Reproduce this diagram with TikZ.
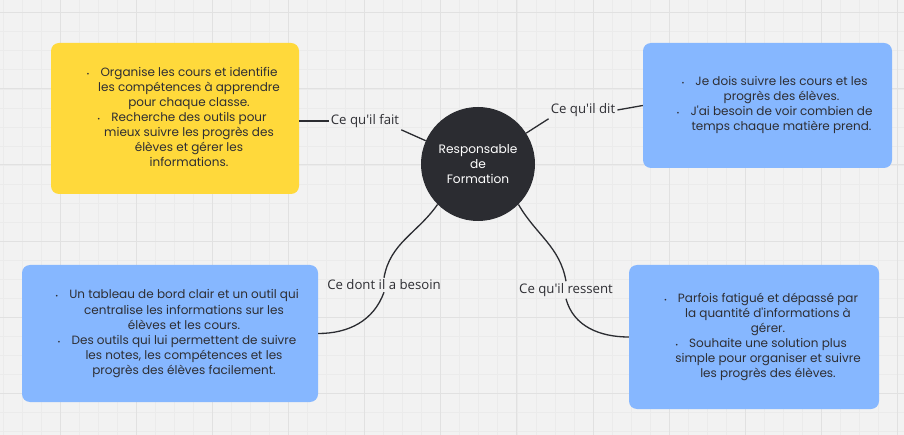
\documentclass[tikz,border=0pt]{standalone}
\usepackage{fontspec}
\setmainfont{Poppins}
\newfontfamily\labelfont{Open Sans}
\usetikzlibrary{positioning}
\definecolor{boardbg}{RGB}{242,242,242}
\definecolor{gridminor}{RGB}{235,235,235}
\definecolor{gridmajor}{RGB}{225,225,225}
\definecolor{stickyyellow}{RGB}{255,217,59}
\definecolor{stickyblue}{RGB}{134,183,255}
\definecolor{hubdark}{RGB}{43,44,49}
\definecolor{inkgray}{RGB}{46,46,51}
\newcommand{\puce}{\llap{{\scriptsize\textbullet}\hspace{11pt}}}

\begin{document}
\begin{tikzpicture}[
  x=1pt, y=1pt,
  card/.style={rounded corners=8pt,inner sep=0pt,text=inkgray,font=\fontsize{12}{15}\selectfont},
  yellowcard/.style={card,fill=stickyyellow},
  bluecard/.style={card,fill=stickyblue},
  hub/.style={circle,fill=hubdark,text=white,minimum size=114pt,inner sep=0pt,align=center,font=\fontsize{12.2}{15}\selectfont},
  branch/.style={font=\labelfont\fontsize{13.2}{15}\selectfont,text=inkgray,inner sep=2pt},
  link/.style={line width=1.3pt,hubdark}
]
% BOARD: background and grid
\fill[boardbg] (0,0) rectangle (904,-435);
\begin{scope}
  \clip (0,0) rectangle (904,-435);
  \foreach \i in {0,...,48} \draw[gridminor,line width=0.6pt] ({-15.9+19.025*\i},0) -- ++(0,-435);
  \foreach \j in {0,...,24} \draw[gridminor,line width=0.6pt] (0,{6.3-19.025*\j}) -- ++(904,0);
  \foreach \i in {0,...,12} \draw[gridmajor,line width=0.8pt] ({-15.9+76.1*\i},0) -- ++(0,-435);
  \foreach \j in {0,...,6} \draw[gridmajor,line width=0.8pt] (0,{-12.7-76.1*\j}) -- ++(904,0);
\end{scope}

% CENTRE: the role
\node[hub] (resp) at (478,-164) {Responsable\\de\\Formation};

% TOP LEFT: what he does
\node[yellowcard,minimum width=248pt,minimum height=151pt] (doesbox) at (175,-118.5) {\hspace*{28pt}\begin{tabular}{@{}c@{}}
  \puce Organise les cours et identifie\\ les compétences à apprendre\\ pour chaque classe.\\
  \puce Recherche des outils pour\\ mieux suivre les progrès des\\ élèves et gérer les\\ informations.\end{tabular}};

% TOP RIGHT: what he says
\node[bluecard,minimum width=249pt,minimum height=125pt] (saysbox) at (767.5,-105.5) {\hspace*{28pt}\begin{tabular}{@{}c@{}}
  \puce Je dois suivre les cours et les\\ progrès des élèves.\\
  \puce J\textquotesingle ai besoin de voir combien de\\ temps chaque matière prend.\end{tabular}};

% BOTTOM LEFT: what he needs
\node[bluecard,minimum width=296pt,minimum height=137pt] (needbox) at (170,-333.5) {\hspace*{28pt}\begin{tabular}{@{}c@{}}
  \puce Un tableau de bord clair et un outil qui\\ centralise les informations sur les\\ élèves et les cours.\\
  \puce Des outils qui lui permettent de suivre\\ les notes, les compétences et les\\ progrès des élèves facilement.\end{tabular}};

% BOTTOM RIGHT: what he feels
\node[bluecard,minimum width=250pt,minimum height=144pt] (feelbox) at (754,-337) {\hspace*{28pt}\begin{tabular}{@{}c@{}}
  \puce Parfois fatigué et dépassé par\\ la quantité d\textquotesingle informations à\\ gérer.\\
  \puce Souhaite une solution plus\\ simple pour organiser et suivre\\ les progrès des élèves.\end{tabular}};

% BRANCH LABELS
\node[branch] (fait) at (365,-121) {Ce qu\textquotesingle il fait};
\node[branch] (dit) at (583,-110) {Ce qu\textquotesingle il dit};
\node[branch] (besoin) at (384,-285) {Ce dont il a besoin};
\node[branch] (ressent) at (566,-290) {Ce qu\textquotesingle il ressent};

% BRANCHES
\draw[link] (doesbox.east |- fait.west) -- (fait.west);
\draw[link] (fait.south east) -- (resp);
\draw[link] (resp) -- (dit.south west);
\draw[link] (dit.east) -- (saysbox.west);
\draw[link] (resp.225) to[out=235,in=80] (besoin.north);
\draw[link] (besoin.south) to[out=-110,in=0] (needbox.east);
\draw[link] (resp.-45) to[out=-60,in=100] (ressent.north);
\draw[link] (ressent.south) to[out=-75,in=180] (feelbox.west);

\end{tikzpicture}
\end{document}
